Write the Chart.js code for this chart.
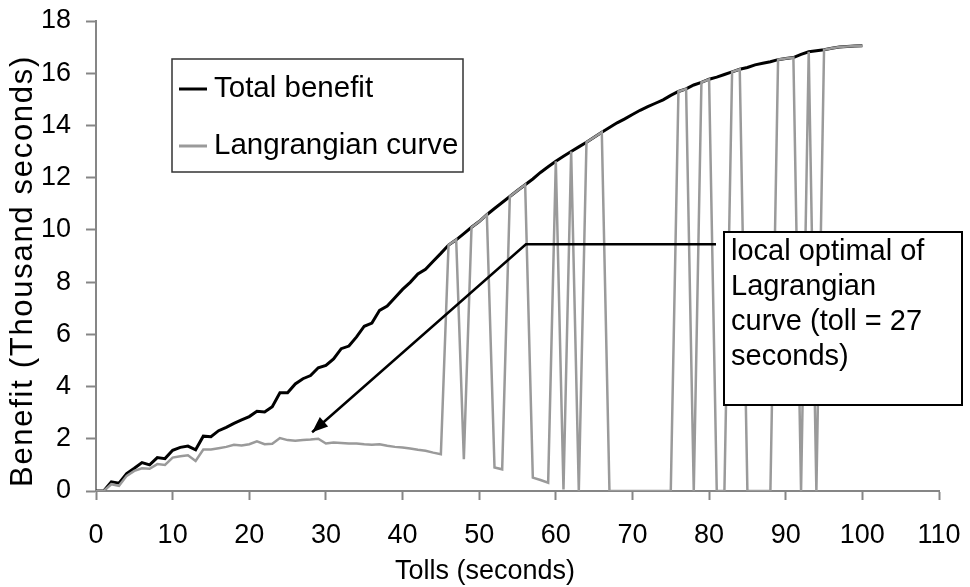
<!DOCTYPE html>
<html lang="en">
<head>
  <meta charset="UTF-8" />
  <title>Total benefit vs tolls</title>
  <script src="https://cdn.jsdelivr.net/npm/chart.js"></script>
  <style>
    body { margin: 0; background: #fff; }
    #wrap { width: 970px; height: 587px; }
  </style>
</head>
<body>
  <div id="wrap"><canvas id="tollChart"></canvas></div>

  <script>
    // tolls in seconds, 0..100
    const tolls = Array.from({ length: 101 }, (_, i) => i);

    // thousand seconds
    const totalBenefit = [
      0, 0, 0.35, 0.3, 0.67, 0.87, 1.09, 1.0, 1.28, 1.24,
      1.56, 1.67, 1.72, 1.58, 2.1, 2.08, 2.31, 2.44, 2.59, 2.72,
      2.85, 3.05, 3.03, 3.23, 3.76, 3.76, 4.1, 4.3, 4.42, 4.72,
      4.81, 5.06, 5.45, 5.55, 5.9, 6.31, 6.43, 6.92, 7.08, 7.4,
      7.72, 7.99, 8.31, 8.49, 8.8, 9.1, 9.42, 9.62, 9.86, 10.1,
      10.32, 10.58, 10.82, 11.05, 11.28, 11.51, 11.73, 11.95, 12.2, 12.42,
      12.63, 12.82, 13.0, 13.18, 13.36, 13.55, 13.74, 13.92, 14.1, 14.25,
      14.42, 14.58, 14.72, 14.85, 14.98, 15.15, 15.3, 15.4, 15.55, 15.65,
      15.77, 15.85, 15.95, 16.05, 16.15, 16.22, 16.32, 16.38, 16.44, 16.52,
      16.56, 16.6, 16.72, 16.82, 16.86, 16.9, 16.96, 17.0, 17.02, 17.04,
      17.05
    ];

    const lagrangian = [
      0, 0, 0.26, 0.2, 0.58, 0.77, 0.87, 0.85, 1.03, 1.0,
      1.28, 1.33, 1.37, 1.15, 1.59, 1.59, 1.64, 1.69, 1.77, 1.74,
      1.79, 1.9, 1.79, 1.81, 2.03, 1.95, 1.92, 1.95, 1.97, 2.0,
      1.82, 1.86, 1.84, 1.82, 1.82, 1.79, 1.77, 1.79, 1.73, 1.69,
      1.67, 1.63, 1.58, 1.54, 1.47, 1.41, 9.42, 9.62, 1.22, 10.1,
      10.32, 10.58, 0.9, 0.83, 11.28, 11.51, 11.73, 0.51, 0.42, 0.32,
      12.63, 0.06, 13.0, 0, 13.36, 13.55, 13.74, 0, 0, 0,
      0, 0, 0, 0, 0, 0, 15.3, 15.4, 0, 15.65,
      15.77, 0, 0, 16.05, 16.15, 0, 0, 0, 0, 16.52,
      16.56, 16.6, 0, 16.82, 0, 16.9, 16.96, 17.0, 17.02, 17.04,
      17.05
    ];

    const xTicks = [0, 10, 20, 30, 40, 50, 60, 70, 80, 90, 100, 110];
    const yTicks = [0, 2, 4, 6, 8, 10, 12, 14, 16, 18];

    const noteLines = ['local optimal of', 'Lagrangian', 'curve (toll = 27', 'seconds)'];

    const FONT = "'Liberation Sans', Arial, sans-serif";
    const AXIS_GREY = '#868686';
    const LINE_GREY = '#9a9a9a';

    // legend box, callout and axis titles
    const extras = {
      id: 'extras',
      afterDatasetsDraw(chart) {
        const c = chart.ctx;
        const xs = chart.scales.x, ys = chart.scales.y;
        c.save();

        // legend
        c.strokeStyle = '#333';
        c.lineWidth = 1.5;
        c.strokeRect(172, 59, 291, 113);
        c.lineWidth = 3;
        c.strokeStyle = '#000';
        c.beginPath(); c.moveTo(179, 89); c.lineTo(207, 89); c.stroke();
        c.strokeStyle = LINE_GREY;
        c.beginPath(); c.moveTo(179, 146); c.lineTo(207, 146); c.stroke();
        c.fillStyle = '#000';
        c.font = '29.5px ' + FONT;
        c.textBaseline = 'middle';
        c.textAlign = 'left';
        c.fillText(chart.data.datasets[0].label, 214, 89);
        c.fillText(chart.data.datasets[1].label, 214, 146);

        // callout arrow: from the note to the local optimum
        const hx = xs.getPixelForValue(80.9), hy = ys.getPixelForValue(9.45);
        const kx = xs.getPixelForValue(56.1);
        const tx = xs.getPixelForValue(28.2), ty = ys.getPixelForValue(2.25);
        c.strokeStyle = '#000';
        c.lineWidth = 2.5;
        c.beginPath();
        c.moveTo(hx, hy); c.lineTo(kx, hy); c.lineTo(tx, ty);
        c.stroke();
        const ang = Math.atan2(ty - hy, tx - kx);
        c.beginPath();
        c.moveTo(tx, ty);
        c.lineTo(tx - 17 * Math.cos(ang - 0.38), ty - 17 * Math.sin(ang - 0.38));
        c.lineTo(tx - 17 * Math.cos(ang + 0.38), ty - 17 * Math.sin(ang + 0.38));
        c.closePath();
        c.fillStyle = '#000';
        c.fill();

        // note box
        c.fillStyle = '#fff';
        c.fillRect(724, 232, 238, 173);
        c.strokeStyle = '#000';
        c.lineWidth = 2;
        c.strokeRect(724, 232, 238, 173);
        c.fillStyle = '#000';
        c.font = '29px ' + FONT;
        noteLines.forEach((t, i) => c.fillText(t, 731, 252 + i * 35));

        // axis titles
        c.font = '27px ' + FONT;
        c.textAlign = 'center';
        c.fillText('Tolls (seconds)', 485, 572);
        c.font = '31px ' + FONT;
        c.letterSpacing = '1.7px';
        c.translate(23, 271);
        c.rotate(-Math.PI / 2);
        c.fillText('Benefit (Thousand seconds)', 0, 0);
        c.restore();
      }
    };

    const ctx = document.getElementById('tollChart').getContext('2d');
    new Chart(ctx, {
      type: 'line',
      data: {
        datasets: [{
          label: 'Total benefit',
          data: tolls.map((t, i) => ({ x: t, y: totalBenefit[i] })),
          borderColor: '#000',
          borderWidth: 3,
          pointRadius: 0,
          tension: 0,
          order: 2
        }, {
          label: 'Langrangian curve',
          data: tolls.map((t, i) => ({ x: t, y: lagrangian[i] })),
          borderColor: LINE_GREY,
          borderWidth: 2.5,
          pointRadius: 0,
          tension: 0,
          order: 1
        }]
      },
      options: {
        responsive: true,
        maintainAspectRatio: false,
        animation: false,
        layout: { padding: { top: 21, right: 31, left: 0, bottom: 0 } },
        scales: {
          x: {
            type: 'linear',
            min: 0,
            max: 110,
            // fixed band height, and no extra room asked for the end labels
            afterFit: s => { s.height = 96; s.paddingLeft = 0; s.paddingRight = 0; },
            afterBuildTicks: s => { s.ticks = xTicks.map(v => ({ value: v })); },
            border: { color: AXIS_GREY, width: 2 },
            grid: { drawOnChartArea: false, tickLength: 9, tickColor: AXIS_GREY, tickWidth: 2 },
            ticks: { color: '#000', padding: 19, maxRotation: 0, font: { family: FONT, size: 27 } }
          },
          y: {
            min: 0,
            max: 18,
            afterFit: s => { s.width = 96; s.paddingTop = 0; s.paddingBottom = 0; },
            afterBuildTicks: s => { s.ticks = yTicks.map(v => ({ value: v })); },
            border: { color: AXIS_GREY, width: 2 },
            grid: { drawOnChartArea: false, tickLength: 10, tickColor: AXIS_GREY, tickWidth: 2 },
            ticks: { color: '#000', padding: 15, font: { family: FONT, size: 27 } }
          }
        },
        plugins: {
          legend: { display: false },
          tooltip: { enabled: false }
        }
      },
      plugins: [extras]
    });
  </script>
</body>
</html>
